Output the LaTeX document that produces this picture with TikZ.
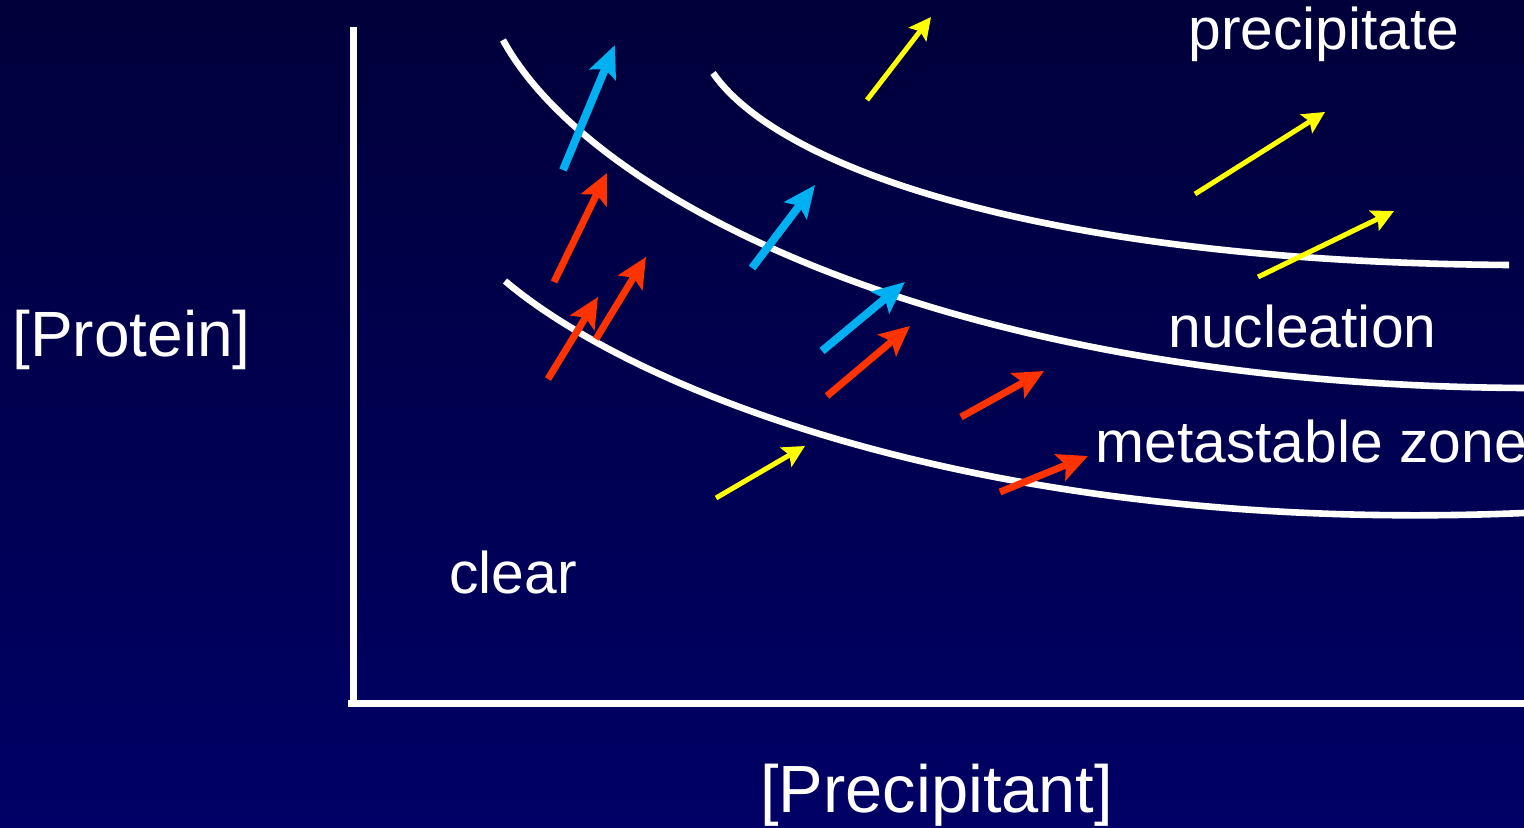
\documentclass[tikz,border=0pt]{standalone}
\usepackage{fontspec}
\setmainfont{Liberation Sans}
\usetikzlibrary{arrows.meta}
\definecolor{bgtop}{RGB}{0,0,58}
\definecolor{bgbot}{RGB}{0,0,102}
\definecolor{ablue}{RGB}{0,176,240}
\definecolor{ared}{RGB}{255,51,0}
\definecolor{ayel}{RGB}{255,255,0}
\tikzset{
  curveline/.style={draw=white, line width=3.3pt},
  axisline/.style={draw=white, line width=3.5pt},
  bluearr/.style={draw=ablue, line width=4pt, -{Stealth[length=16pt,width=14pt,inset=3pt]}},
  redarr/.style={draw=ared, line width=3.5pt, -{Stealth[length=15pt,width=14pt,inset=3pt]}},
  yelarr/.style={draw=ayel, line width=2.5pt, -{Stealth[length=11pt,width=11pt,inset=2pt]}},
  zonelabel/.style={text=white, font=\fontsize{29.4}{34}\selectfont, inner sep=0pt, anchor=base west},
  axislabel/.style={text=white, inner sep=0pt, anchor=base west}
}
\begin{document}
\begin{tikzpicture}[x=0.5pt,y=-0.5pt]
\shade[top color=bgtop, bottom color=bgbot] (0,0) rectangle (1524,828);
\useasboundingbox (0,0) rectangle (1524,828);
% axes
\coordinate (ytop) at (353,27);
\coordinate (ybot) at (353,706);
\coordinate (ocorner) at (348,703);
\coordinate (xend) at (1524,703);
\draw[axisline] (ytop) -- (ybot);
\draw[axisline] (ocorner) -- (xend);
% curves
\coordinate (c1s) at (713,73);  \coordinate (c1e) at (1509,265);
\coordinate (c2s) at (503,40);  \coordinate (c2e) at (1524,388);
\coordinate (c3s) at (505,281); \coordinate (c3e) at (1524,513);
\draw[curveline] (c1s) .. controls (780,170) and (1050,262) .. (c1e);
\draw[curveline] (c2s) .. controls (590,200) and (950,385) .. (c2e);
\draw[curveline] (c3s) .. controls (640,395) and (1000,535) .. (c3e);
% arrow endpoints
\coordinate (b1s) at (563,170); \coordinate (b1e) at (615,45);
\coordinate (b2s) at (752,268); \coordinate (b2e) at (815,185);
\coordinate (b3s) at (822,351); \coordinate (b3e) at (905,282);
\coordinate (r1s) at (554,282); \coordinate (r1e) at (607,173);
\coordinate (r2s) at (548,379); \coordinate (r2e) at (598,297);
\coordinate (r3s) at (596,339); \coordinate (r3e) at (646,257);
\coordinate (r4s) at (827,396); \coordinate (r4e) at (910,326);
\coordinate (r5s) at (961,417); \coordinate (r5e) at (1044,371);
\coordinate (r6s) at (1000,492); \coordinate (r6e) at (1088,456);
\coordinate (y1s) at (867,100); \coordinate (y1e) at (931,17);
\coordinate (y2s) at (1195,194); \coordinate (y2e) at (1325,112);
\coordinate (y3s) at (1258,277); \coordinate (y3e) at (1394,211);
\coordinate (y4s) at (716,498); \coordinate (y4e) at (805,446);
% arrows
\draw[yelarr] (y1s) -- (y1e);
\draw[yelarr] (y2s) -- (y2e);
\draw[yelarr] (y3s) -- (y3e);
\draw[yelarr] (y4s) -- (y4e);
\draw[redarr] (r1s) -- (r1e);
\draw[redarr] (r2s) -- (r2e);
\draw[redarr] (r3s) -- (r3e);
\draw[redarr] (r4s) -- (r4e);
\draw[redarr] (r5s) -- (r5e);
\draw[redarr] (r6s) -- (r6e);
\draw[bluearr] (b1s) -- (b1e);
\draw[bluearr] (b2s) -- (b2e);
\draw[bluearr] (b3s) -- (b3e);
% labels
\node[zonelabel] (precip) at (1188,50) {precipitate};
\node[zonelabel] (nucl) at (1168,348) {nucleation};
\node[zonelabel] (meta) at (1095,462) {metastable zone};
\node[zonelabel] (clear) at (449,593) {clear};
\node[axislabel, font=\fontsize{32}{38}\selectfont] (prot) at (12,357) {[Protein]};
\node[axislabel, font=\fontsize{33.4}{38}\selectfont] (prec) at (760,812) {[Precipitant]};
\end{tikzpicture}
\end{document}
